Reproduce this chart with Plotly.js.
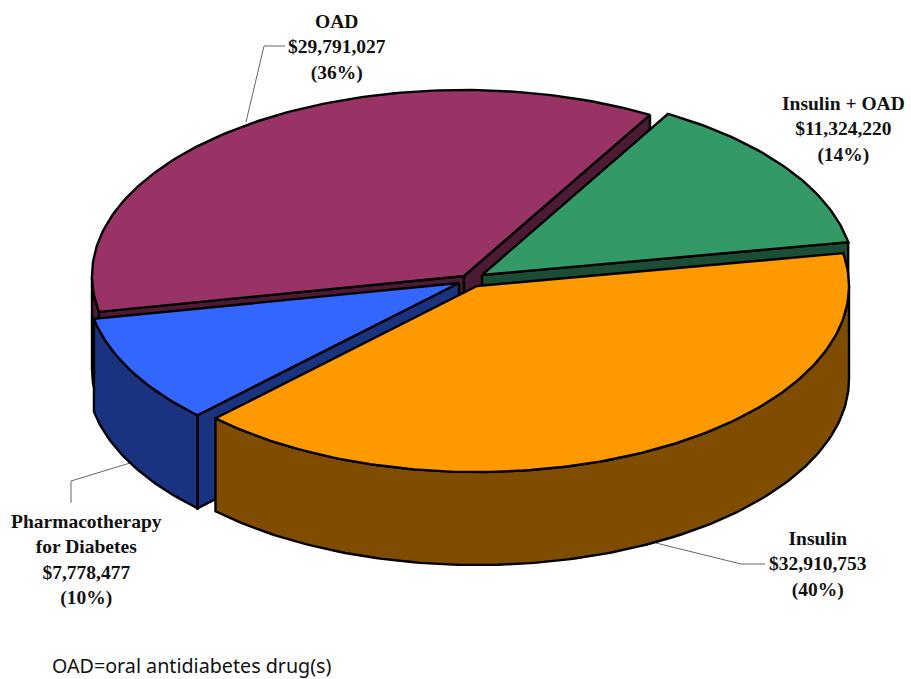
<!DOCTYPE html>
<html>
<head>
<meta charset="utf-8">
<script src="https://cdn.plot.ly/plotly-3.0.1.min.js"></script>
<style>html,body{margin:0;padding:0;background:#fff}#chart{width:911px;height:679px}</style>
</head>
<body>
<div id="chart"></div>
<script>
// Spending by drug class, in dollars
const categories = ["OAD", "Insulin + OAD", "Insulin", "Pharmacotherapy<br>for Diabetes"];
const spending = [29791027, 11324220, 32910753, 7778477];
const percentLabels = ["36%", "14%", "40%", "10%"];

// Pie styling
const topColors = ["#993366", "#339966", "#FF9900", "#3366FF"];
const sideColors = ["#4D1A33", "#1A4D33", "#804D00", "#1A3380"];
const apexX = [464, 482, 477, 459];
const apexY = [276, 275, 286, 283];
const radiusX = 372, radiusY = 186, depth = 93;
const startAngle = 60; // boundary between the first two slices, degrees counter-clockwise from +x
const drawOrder = [0, 1, 3, 2]; // back to front

const total = spending.reduce((a, b) => a + b, 0);
const rad = d => d * Math.PI / 180;

// Sweep of each slice: OAD ends at the start angle, the others run clockwise from it
const spans = [[startAngle + spending[0] / total * 360, startAngle]];
let next = startAngle;
for (let i = 1; i < spending.length; i++) {
  const sweep = spending[i] / total * 360;
  spans.push([next, next - sweep]);
  next -= sweep;
}

function rimPoint(i, t, dy) {
  return [apexX[i] + radiusX * Math.cos(rad(t)), apexY[i] - radiusY * Math.sin(rad(t)) + (dy || 0)];
}
function arc(i, from, to, dy) {
  const n = Math.max(2, Math.ceil(Math.abs(from - to)));
  const pts = [];
  for (let k = 0; k <= n; k++) pts.push(rimPoint(i, from + (to - from) * k / n, dy));
  return pts;
}
function polygon(pts, color, name) {
  const closed = pts.concat([pts[0]]);
  return {
    type: "scatter", mode: "lines", name: name, showlegend: false, hoverinfo: "skip",
    x: closed.map(p => p[0]), y: closed.map(p => p[1]),
    fill: "toself", fillcolor: color,
    line: { color: "#000", width: 2.4, shape: "linear" }
  };
}

const traces = [];
drawOrder.forEach(i => {
  const [t1, t2] = spans[i];
  const apex = [apexX[i], apexY[i]];
  const apexLow = [apexX[i], apexY[i] + depth];
  const name = categories[i].replace("<br>", " ");
  // cut faces that turn toward the viewer
  [[t1, Math.cos(rad(t1)) < 0], [t2, Math.cos(rad(t2)) > 0]].forEach(([t, visible]) => {
    if (visible) {
      traces.push(polygon([apex, rimPoint(i, t), rimPoint(i, t, depth), apexLow], sideColors[i], name + " side"));
    }
  });
  // outer wall: only the part of the rim on the near half of the ellipse
  [[-180, 0], [180, 360], [-540, -360]].forEach(([a, b]) => {
    const from = Math.min(t1, b), to = Math.max(t2, a);
    if (from > to) {
      traces.push(polygon(arc(i, from, to, 0).concat(arc(i, to, from, depth)), sideColors[i], name + " wall"));
    }
  });
  // top face
  traces.push(polygon([apex].concat(arc(i, t1, t2, 0)), topColors[i], name));
});

const labelFont = { family: "'Liberation Serif', serif", size: 19.5, color: "#111", weight: 700 };
const money = v => "$" + v.toLocaleString("en-US");
const labelPlaces = [[337, 47], [843, 129], [818, 564], [86, 560]];

const annotations = categories.map((c, i) => ({
  xref: "x", yref: "y", x: labelPlaces[i][0], y: labelPlaces[i][1],
  text: c + "<br>" + money(spending[i]) + "<br>(" + percentLabels[i] + ")",
  showarrow: false, align: "center", xanchor: "center", yanchor: "middle", font: labelFont
}));
annotations.push({
  xref: "x", yref: "y", x: 50, y: 665, xanchor: "left", yanchor: "middle", showarrow: false,
  text: "OAD=oral antidiabetes drug(s)",
  font: { family: "'Noto Sans', sans-serif", size: 19.7, color: "#111" }
});

// Leader lines from each label to its slice
const leader = path => ({ type: "path", xref: "x", yref: "y", path: path, layer: "below",
  line: { color: "#666", width: 1 } });
const shapes = [
  leader("M246,122 L264,46 L285,46"),
  leader("M130,463 L71,481 L71,503"),
  leader("M656,543 L741,564 L765,564")
];

const layout = {
  width: 911, height: 679,
  margin: { l: 0, r: 0, t: 0, b: 0 },
  paper_bgcolor: "#fff", plot_bgcolor: "#fff",
  showlegend: false,
  xaxis: { range: [0, 911], visible: false, fixedrange: true },
  yaxis: { range: [679, 0], visible: false, fixedrange: true },
  annotations: annotations,
  shapes: shapes
};
Plotly.newPlot("chart", traces, layout, { displayModeBar: false, staticPlot: true });
</script>
</body>
</html>
